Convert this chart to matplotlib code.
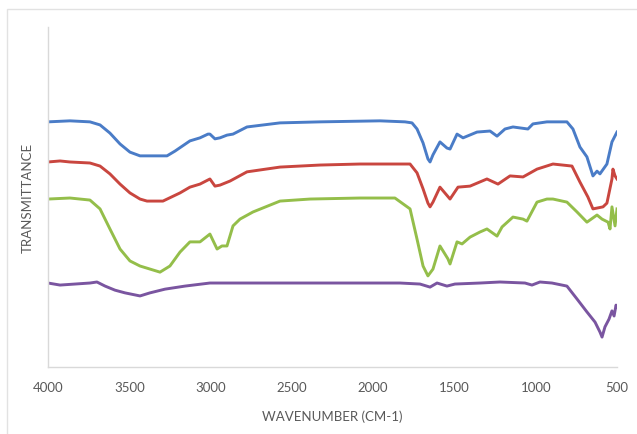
import matplotlib
matplotlib.use("Agg")
import matplotlib.pyplot as plt
from matplotlib.patches import Rectangle

# FTIR spectra, wavenumber (cm-1) vs transmittance (arbitrary offset units)
wn_blue = [4000, 3865, 3742, 3680, 3619, 3557, 3496, 3434, 3373, 3311, 3268, 3219,
           3127, 3065, 3016, 3004, 2973, 2942, 2899, 2862, 2776, 2573, 2327, 1958,
           1804, 1761, 1730, 1693, 1663, 1650, 1632, 1589, 1546, 1527, 1484, 1447,
           1361, 1281, 1238, 1189, 1140, 1048, 1017, 931, 851, 808, 771, 728, 685,
           648, 623, 605, 562, 531, 500]
t_blue = [72.1, 72.4, 72.1, 71.2, 68.8, 65.6, 63.2, 62.1, 62.1, 62.1, 62.1, 63.5,
          66.5, 67.4, 68.5, 68.5, 67.1, 67.4, 68.2, 68.5, 70.6, 71.8, 72.1, 72.4,
          72.1, 71.8, 70.0, 65.9, 61.2, 60.3, 62.4, 66.2, 64.4, 64.1, 68.5, 67.4,
          69.1, 69.4, 67.9, 70.0, 70.6, 70.0, 71.5, 72.1, 72.1, 72.1, 70.0, 64.7,
          61.8, 56.2, 57.6, 56.8, 59.7, 66.2, 69.1]

wn_red = [4000, 3926, 3865, 3742, 3680, 3619, 3557, 3496, 3434, 3391, 3293, 3188,
          3127, 3065, 3004, 2973, 2942, 2880, 2776, 2573, 2327, 2081, 1773, 1730,
          1693, 1663, 1650, 1632, 1589, 1527, 1478, 1404, 1300, 1232, 1158, 1078,
          992, 894, 777, 728, 679, 648, 586, 562, 531, 525, 512, 500]
t_red = [60.3, 60.6, 60.3, 60.0, 59.1, 56.8, 53.8, 51.2, 49.4, 48.8, 48.8, 51.2,
         52.9, 53.8, 55.3, 53.2, 53.5, 54.7, 57.4, 58.8, 59.4, 59.7, 59.7, 57.1,
         52.4, 48.2, 47.1, 48.5, 52.9, 49.4, 52.9, 53.2, 55.3, 53.8, 56.2, 55.9,
         58.2, 59.7, 59.1, 54.4, 50.0, 46.5, 47.1, 48.2, 55.3, 58.2, 56.2, 55.3]

wn_green = [4000, 3865, 3742, 3680, 3619, 3557, 3496, 3434, 3311, 3250, 3188, 3127,
            3065, 3004, 2960, 2930, 2899, 2862, 2819, 2739, 2573, 2388, 2081, 1866,
            1773, 1730, 1693, 1663, 1632, 1589, 1540, 1527, 1484, 1453, 1404, 1343,
            1300, 1238, 1207, 1140, 1078, 1054, 992, 931, 894, 808, 746, 685, 623,
            592, 555, 543, 531, 512, 500]
t_green = [49.4, 49.7, 49.1, 46.5, 40.6, 34.7, 31.2, 29.7, 27.9, 29.7, 33.8, 36.8,
           36.8, 39.1, 34.7, 35.6, 35.6, 41.5, 43.5, 45.6, 48.8, 49.4, 49.7, 49.7,
           46.5, 37.6, 29.7, 26.8, 28.8, 35.6, 31.8, 30.3, 36.8, 36.2, 38.2, 39.7,
           40.6, 38.5, 41.2, 44.1, 43.5, 42.9, 48.5, 49.4, 49.4, 48.5, 45.6, 42.6,
           44.7, 43.5, 42.6, 40.6, 47.1, 41.5, 46.5]

wn_purple = [4000, 3926, 3834, 3742, 3699, 3649, 3588, 3526, 3434, 3373, 3280, 3157,
             3004, 2696, 2265, 1835, 1712, 1650, 1607, 1546, 1497, 1343, 1220, 1066,
             1023, 974, 900, 808, 746, 685, 635, 605, 592, 574, 549, 531, 518, 506,
             500]
t_purple = [24.7, 24.1, 24.4, 24.7, 25.0, 23.8, 22.6, 21.8, 20.9, 21.8, 22.9, 23.8,
            24.7, 24.7, 24.7, 24.7, 24.4, 23.5, 24.7, 23.8, 24.4, 24.7, 25.0, 24.7,
            24.1, 25.0, 24.7, 23.8, 20.0, 16.2, 13.2, 10.3, 8.8, 11.8, 14.1, 16.5,
            15.0, 18.2, 17.6]

xticks = [4000, 3500, 3000, 2500, 2000, 1500, 1000, 500]

plt.rcParams['font.family'] = ['Lato', 'DejaVu Sans']

fig = plt.figure(figsize=(6.37, 4.35), dpi=100)
# light outer frame of the chart area
frame_top = 1 - 10 / 435
fig.patches.append(Rectangle((7 / 637, -0.1), 1.2, frame_top + 0.1,
                             transform=fig.transFigure, fill=False,
                             edgecolor='#e2e2e2', linewidth=1.0))
ax = fig.add_axes([48 / 637, 67 / 435, 569 / 637, 340 / 435])

ax.plot(wn_blue, t_blue, color='#4a7cc7', lw=2.1, solid_joinstyle='round')
ax.plot(wn_red, t_red, color='#c9463f', lw=2.1, solid_joinstyle='round')
ax.plot(wn_green, t_green, color='#94be4a', lw=2.1, solid_joinstyle='round')
ax.plot(wn_purple, t_purple, color='#7a55a0', lw=2.1, solid_joinstyle='round')

ax.set_xlim(4000, 500)
ax.set_ylim(0, 100)
ax.set_xticks(xticks)
ax.set_xticklabels([str(v) for v in xticks])
ax.set_yticks([])
ax.tick_params(axis='x', length=0, pad=10, labelsize=9.5, labelcolor='#595959')

for s in ['top', 'right']:
    ax.spines[s].set_visible(False)
for s in ['left', 'bottom']:
    ax.spines[s].set_color('#d9d9d9')
    ax.spines[s].set_linewidth(1.0)

ax.set_xlabel("WAVENUMBER (CM-1)", fontsize=9.5, color='#595959', labelpad=12)
ax.set_ylabel("TRANSMITTANCE", fontsize=9.5, color='#595959', labelpad=10)

fig.savefig("out.png", dpi=100)
